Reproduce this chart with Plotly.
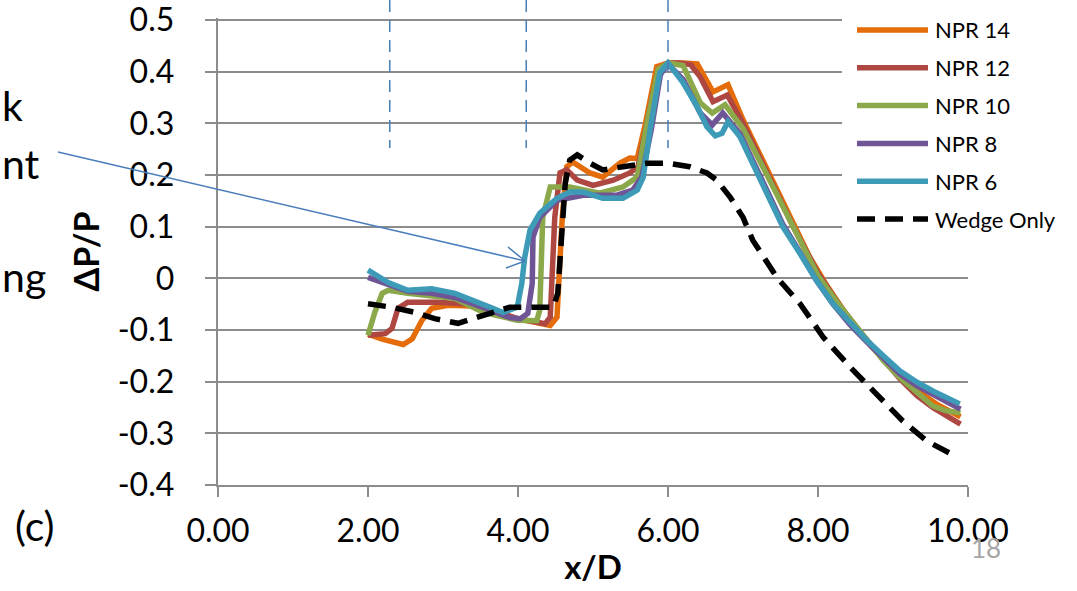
import plotly.graph_objects as go

# ---------------- data ----------------
npr14_x = [2.0, 2.2, 2.47, 2.59, 2.72, 2.85, 3.07, 3.47, 3.99, 4.43, 4.52, 4.59, 4.65, 4.73, 4.96, 5.13, 5.36, 5.49, 5.59, 5.7, 5.85, 6.0, 6.2, 6.39, 6.6, 6.8, 7.0, 7.32, 7.67, 7.89, 8.1, 8.4, 8.7, 9.0, 9.3, 9.6, 9.9]
npr14_y = [-0.108, -0.118, -0.128, -0.117, -0.081, -0.058, -0.052, -0.054, -0.078, -0.091, -0.075, 0.118, 0.216, 0.225, 0.204, 0.196, 0.223, 0.233, 0.232, 0.3, 0.41, 0.417, 0.417, 0.415, 0.361, 0.375, 0.307, 0.21, 0.107, 0.041, -0.01, -0.075, -0.13, -0.175, -0.215, -0.245, -0.268]

npr12_x = [2.0, 2.23, 2.32, 2.4, 2.53, 2.93, 3.39, 3.99, 4.36, 4.43, 4.49, 4.56, 4.65, 4.79, 5.0, 5.27, 5.49, 5.6, 5.72, 5.87, 6.0, 6.15, 6.3, 6.43, 6.6, 6.79, 7.0, 7.32, 7.67, 8.0, 8.3, 8.6, 8.9, 9.09, 9.32, 9.53, 9.9]
npr12_y = [-0.11, -0.107, -0.097, -0.058, -0.046, -0.046, -0.05, -0.078, -0.088, -0.075, 0.118, 0.204, 0.21, 0.19, 0.18, 0.19, 0.204, 0.216, 0.3, 0.405, 0.417, 0.417, 0.414, 0.39, 0.342, 0.355, 0.3, 0.205, 0.1, 0.01, -0.055, -0.11, -0.16, -0.194, -0.227, -0.25, -0.282]

npr10_x = [2.0, 2.09, 2.19, 2.27, 2.53, 3.16, 3.54, 3.99, 4.25, 4.29, 4.33, 4.43, 4.69, 5.09, 5.4, 5.59, 5.72, 5.87, 6.0, 6.2, 6.43, 6.59, 6.76, 7.0, 7.32, 7.67, 8.0, 8.3, 8.6, 8.87, 9.09, 9.32, 9.53, 9.7, 9.9]
npr10_y = [-0.11, -0.066, -0.029, -0.023, -0.029, -0.039, -0.066, -0.081, -0.082, -0.062, 0.118, 0.177, 0.177, 0.165, 0.177, 0.196, 0.3, 0.405, 0.417, 0.412, 0.34, 0.32, 0.336, 0.29, 0.2, 0.1, 0.005, -0.055, -0.11, -0.159, -0.192, -0.221, -0.247, -0.256, -0.26]

npr8_x = [2.0, 2.27, 2.53, 2.85, 3.16, 3.52, 3.89, 4.03, 4.13, 4.19, 4.2, 4.29, 4.52, 4.87, 5.32, 5.53, 5.65, 5.78, 5.9, 6.0, 6.2, 6.43, 6.59, 6.73, 6.96, 7.32, 7.53, 7.76, 7.98, 8.2, 8.43, 8.65, 8.87, 9.09, 9.32, 9.53, 9.9]
npr8_y = [0.002, -0.012, -0.025, -0.029, -0.037, -0.056, -0.076, -0.078, -0.068, -0.01, 0.08, 0.118, 0.151, 0.161, 0.161, 0.171, 0.196, 0.29, 0.395, 0.415, 0.385, 0.32, 0.297, 0.32, 0.28, 0.17, 0.105, 0.05, -0.004, -0.05, -0.09, -0.123, -0.155, -0.185, -0.208, -0.224, -0.253]

npr6_x = [2.0, 2.27, 2.53, 2.85, 3.16, 3.43, 3.63, 3.8, 3.99, 4.05, 4.09, 4.16, 4.29, 4.52, 4.69, 4.87, 5.13, 5.4, 5.59, 5.67, 5.76, 5.89, 6.0, 6.2, 6.39, 6.52, 6.63, 6.72, 6.8, 6.96, 7.32, 7.53, 7.76, 7.98, 8.2, 8.43, 8.65, 8.87, 9.09, 9.32, 9.53, 9.89]
npr6_y = [0.016, -0.008, -0.023, -0.02, -0.029, -0.043, -0.056, -0.066, -0.056, -0.01, 0.041, 0.093, 0.126, 0.155, 0.167, 0.167, 0.155, 0.155, 0.171, 0.196, 0.287, 0.398, 0.417, 0.379, 0.332, 0.293, 0.276, 0.281, 0.303, 0.274, 0.165, 0.1, 0.048, -0.004, -0.049, -0.087, -0.12, -0.15, -0.179, -0.201, -0.218, -0.243]

wedge_x = [2.0, 2.32, 2.63, 2.89, 3.2, 3.43, 3.63, 3.89, 4.33, 4.47, 4.53, 4.59, 4.63, 4.69, 4.79, 4.96, 5.13, 5.4, 5.72, 6.0, 6.29, 6.52, 6.65, 6.83, 7.0, 7.13, 7.27, 7.45, 7.76, 8.07, 8.43, 8.79, 9.13, 9.45, 9.78]
wedge_y = [-0.049, -0.056, -0.066, -0.078, -0.087, -0.076, -0.067, -0.056, -0.056, -0.056, -0.029, 0.087, 0.184, 0.229, 0.239, 0.223, 0.21, 0.216, 0.223, 0.223, 0.216, 0.204, 0.19, 0.157, 0.118, 0.074, 0.041, 0.002, -0.049, -0.114, -0.172, -0.224, -0.276, -0.315, -0.34]

series_names = ["NPR 14", "NPR 12", "NPR 10", "NPR 8", "NPR 6", "Wedge Only"]

y_tick_vals = [0.5, 0.4, 0.3, 0.2, 0.1, 0, -0.1, -0.2, -0.3, -0.4]
y_tick_text = ["0.5", "0.4", "0.3", "0.2", "0.1", "0", "-0.1", "-0.2", "-0.3", "-0.4"]
x_tick_vals = [0, 2, 4, 6, 8, 10]
x_tick_text = ["0.00", "2.00", "4.00", "6.00", "8.00", "10.00"]

marker_lines_x = [2.29, 4.11, 6.0]   # dashed vertical guide lines

# ---------------- styling ----------------
W, H = 1077, 591
L, R, T, B = 218, 109, 18, 106
FONT = "Lato"
colors = ["#E46C0A", "#AE4642", "#8BA84B", "#6F5595", "#3D9BB8", "#000000"]
GRID = "#8C8C8C"
WEDGE_DASH = "18px,10px"
PAD = "\u00a0\u00a0\u00a0"   # spacing between y tick labels and tick marks


def px_x(p):
    return (p - L) / (W - L - R)


def px_y(p):
    return (H - B - p) / (H - T - B)


fig = go.Figure()
series = [(npr14_x, npr14_y), (npr12_x, npr12_y), (npr10_x, npr10_y),
          (npr8_x, npr8_y), (npr6_x, npr6_y), (wedge_x, wedge_y)]
for (xs, ys), name, col in zip(series, series_names, colors):
    dash = WEDGE_DASH if name == "Wedge Only" else "solid"
    fig.add_trace(go.Scatter(x=xs, y=ys, mode="lines", name=name, showlegend=False,
                             line=dict(color=col, width=5.5, dash=dash)))

shapes = []
for xv in marker_lines_x:
    shapes.append(dict(type="line", xref="x", yref="paper", x0=xv, x1=xv,
                       y0=px_y(0), y1=px_y(148),
                       line=dict(color="#4A7EBB", width=1.5, dash="12px,8px")))

# arrow (annotation pointer)
tip = (525, 261)
tail = (58, 152)
arm1 = (508, 247)
arm2 = (506, 268)
for a, b in [(tail, tip), (arm1, tip), (arm2, tip)]:
    shapes.append(dict(type="line", xref="paper", yref="paper",
                       x0=px_x(a[0]), y0=px_y(a[1]), x1=px_x(b[0]), y1=px_y(b[1]),
                       line=dict(color="#4A7EBB", width=1.6)))

annotations = []

# legend (drawn as a key box at top right)
shapes.append(dict(type="rect", xref="paper", yref="paper", x0=px_x(842), x1=px_x(1077),
                   y0=px_y(236), y1=px_y(8), line=dict(width=0), fillcolor="white"))
leg_top, leg_step = 30, 37.8
for i, (name, col) in enumerate(zip(series_names, colors)):
    yy = px_y(leg_top + i * leg_step)
    dash = WEDGE_DASH if name == "Wedge Only" else "solid"
    shapes.append(dict(type="line", xref="paper", yref="paper",
                       x0=px_x(857), x1=px_x(928), y0=yy, y1=yy,
                       line=dict(color=col, width=5.5, dash=dash)))
    annotations.append(dict(text=name, xref="paper", yref="paper", x=px_x(933), y=yy,
                            xanchor="left", yanchor="middle", showarrow=False,
                            font=dict(family=FONT, size=22, color="black")))

for txt, xp, yp in [("k", 0, 106), ("nt", 0, 163), ("ng", 0, 276), ("(c)", 13, 525)]:
    annotations.append(dict(text=txt, xref="paper", yref="paper", x=px_x(xp), y=px_y(yp),
                            xanchor="left", yanchor="middle", showarrow=False,
                            font=dict(family=FONT, size=41, color="black")))
annotations.append(dict(text="18", xref="paper", yref="paper", x=px_x(986), y=px_y(548),
                        xanchor="center", yanchor="middle", showarrow=False,
                        font=dict(family=FONT, size=26, color="#A6A6A6")))

fig.update_layout(
    width=W, height=H,
    margin=dict(l=L, r=R, t=T, b=B, pad=0),
    paper_bgcolor="white", plot_bgcolor="white",
    font=dict(family=FONT, size=32, color="black"),
    shapes=shapes,
    annotations=annotations,
    showlegend=False,
)
fig.update_xaxes(range=[0, 10], tickvals=x_tick_vals, ticktext=x_tick_text,
                 showgrid=False, zeroline=False, showline=True, linecolor=GRID, linewidth=1.5,
                 ticks="outside", ticklen=10, tickcolor=GRID, tickwidth=1.5,
                 ticklabelstandoff=7, ticklabeloverflow="allow",
                 title=dict(text="<b>x/D</b>", font=dict(family=FONT, size=33), standoff=8))
fig.update_yaxes(range=[-0.4, 0.504], tickvals=y_tick_vals,
                 ticktext=[t + PAD for t in y_tick_text],
                 showgrid=True, gridcolor=GRID, gridwidth=1.5, zeroline=False,
                 showline=True, linecolor=GRID, linewidth=1.5,
                 ticks="outside", ticklen=11, tickcolor=GRID, tickwidth=1.5,
                 automargin=False, ticklabeloverflow="allow",
                 title=dict(text="<b>ΔP/P</b>", font=dict(family=FONT, size=34), standoff=8))

fig.write_html("out.html", config={"displayModeBar": False},
               post_script="document.body.style.margin='0';")
